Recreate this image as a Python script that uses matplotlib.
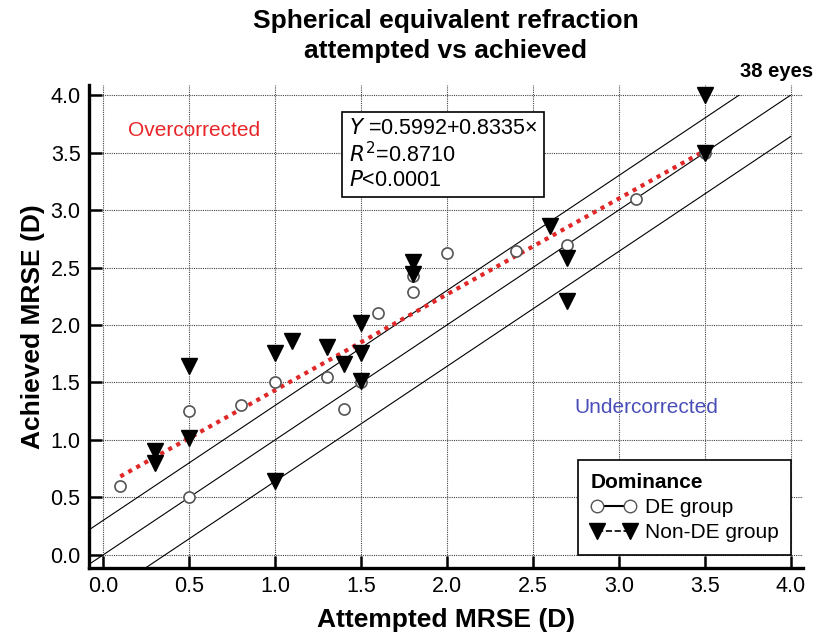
import matplotlib
matplotlib.use("Agg")
import matplotlib.pyplot as plt
from matplotlib.lines import Line2D
import matplotlib.patches as mpatches
import numpy as np

plt.rcParams['font.family'] = ['Liberation Sans', 'DejaVu Sans']

# Data
de_attempted = [0.1, 0.5, 0.5, 0.8, 1.0, 1.3, 1.4, 1.5, 1.6, 1.8, 1.8, 2.0, 2.4, 2.7, 3.1, 3.5]
de_achieved = [0.60, 1.25, 0.50, 1.30, 1.50, 1.55, 1.27, 1.50, 2.10, 2.43, 2.29, 2.63, 2.64, 2.70, 3.10, 3.50]

nonde_attempted = [3.5, 3.5, 2.6, 2.7, 2.7, 1.8, 1.8, 0.5, 1.0, 1.1, 1.3, 1.4, 1.5, 1.5, 1.5, 0.5, 0.3, 0.3, 1.0]
nonde_achieved = [4.00, 3.50, 2.86, 2.58, 2.21, 2.55, 2.44, 1.64, 1.76, 1.86, 1.81, 1.66, 2.02, 1.76, 1.51, 1.02, 0.90, 0.80, 0.64]

reg_intercept = 0.5992
reg_slope = 0.8335
reg_range = [0.1, 3.5]

ref_offsets = [0.3, 0.0, -0.36]

ticks = [0.0, 0.5, 1.0, 1.5, 2.0, 2.5, 3.0, 3.5, 4.0]
tick_labels = ["0.0", "0.5", "1.0", "1.5", "2.0", "2.5", "3.0", "3.5", "4.0"]

fig = plt.figure(figsize=(8.15, 6.37), dpi=100)
ax = fig.add_axes([0.109, 0.109, 0.876, 0.758])
ax.set_xlim(-0.083, 4.07)
ax.set_ylim(-0.11, 4.09)

ax.set_xticks(ticks)
ax.set_yticks(ticks)
ax.set_xticklabels(tick_labels)
ax.set_yticklabels(tick_labels)
ax.grid(True, linestyle=(0, (1, 1)), color='#444444', linewidth=0.8)
ax.set_axisbelow(True)

for s in ['top', 'right']:
    ax.spines[s].set_visible(False)
for s in ['left', 'bottom']:
    ax.spines[s].set_linewidth(2.4)
ax.tick_params(direction='in', length=9, width=1.8, labelsize=15.5, pad=6)

# Reference lines (slope 1), clipped to the 4.0 box
clip_rect = mpatches.Rectangle((-0.083, -0.11), 4.083, 4.11, transform=ax.transData)
xs = np.array([-0.2, 4.2])
for off in ref_offsets:
    ln, = ax.plot(xs, xs + off, color='black', linewidth=0.8, zorder=2)
    ln.set_clip_path(clip_rect)

# Regression line
rx = np.array(reg_range)
ax.plot(rx, reg_intercept + reg_slope * rx, color='#e02828', linestyle=(0, (1, 1.2)),
        linewidth=3.0, zorder=3)

# Points
ax.plot(de_attempted, de_achieved, linestyle='none', marker='o', markersize=8,
        markerfacecolor='white', markeredgecolor='#555555', markeredgewidth=1.2, zorder=4)
ax.plot(nonde_attempted, nonde_achieved, linestyle='none', marker='v', markersize=11,
        markerfacecolor='black', markeredgecolor='black', zorder=5)

# Annotations
ax.text(0.53, 3.69, "Overcorrected", color='#e8262a', fontsize=15, ha='center', va='center')
ax.text(3.16, 1.28, "Undercorrected", color='#4a4fb8', fontsize=15, ha='center', va='center')

eq = ("$\\it{Y}$ =0.5992+0.8335\u00d7\n"
      "$\\it{R}^{2}$=0.8710\n"
      "$\\it{P}$<0.0001")
ax.text(1.43, 3.80, eq, fontsize=15.5, ha='left', va='top', linespacing=1.15,
        bbox=dict(boxstyle='square,pad=0.3', facecolor='white', edgecolor='black', linewidth=1.2),
        zorder=6)

ax.text(4.13, 4.12, "38 eyes", fontsize=14.5, fontweight='bold', ha='right', va='bottom')

fig.text(446 / 815, 1 - 9 / 637, "Spherical equivalent refraction\nattempted vs achieved",
         fontsize=19, fontweight='bold', ha='center', va='top', linespacing=1.3)
ax.set_xlabel("Attempted MRSE (D)", fontsize=19, fontweight='bold', labelpad=8)
ax.set_ylabel("Achieved MRSE (D)", fontsize=19, fontweight='bold', labelpad=4)

handles = [
    Line2D([0], [0], color='black', linestyle='-', linewidth=1.5, marker='o', markersize=9,
           markerfacecolor='white', markeredgecolor='#555555'),
    Line2D([0], [0], color='black', linestyle='--', linewidth=1.2, marker='v', markersize=11,
           markerfacecolor='black', markeredgecolor='black'),
]
leg = ax.legend(handles, ["DE group", "Non-DE group"], title="Dominance", loc='lower right',
                bbox_to_anchor=(0.998, 0.005), fontsize=15,
                title_fontproperties={'weight': 'bold', 'size': 15},
                numpoints=2, fancybox=False, framealpha=1, edgecolor='black', handlelength=2.2,
                handletextpad=0.4, borderpad=0.6, labelspacing=0.3, alignment='left')
leg.get_frame().set_linewidth(1.2)
leg.set_zorder(10)

fig.savefig("out.png", dpi=100)
